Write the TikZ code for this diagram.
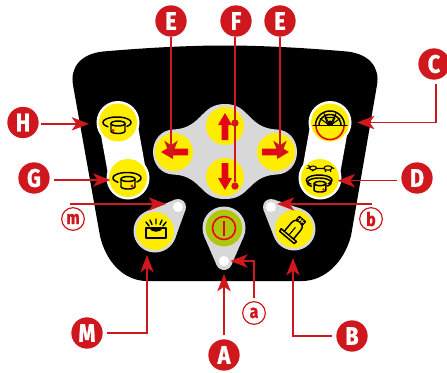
\documentclass[tikz,border=0pt]{standalone}
\usepackage{fontspec}
\setmainfont{Fira Sans}[BoldFeatures={FakeBold=1.2}]
\usetikzlibrary{arrows.meta,calc}
\definecolor{lblred}{HTML}{CE181E}
\definecolor{arrred}{HTML}{E30613}
\definecolor{btny}{HTML}{FFED00}
\definecolor{panelgray}{HTML}{D9D8D8}
\definecolor{pwgreen}{HTML}{AFC80F}
\tikzset{
  lbl/.style={circle,fill=lblred,text=white,minimum size=23.5pt,inner sep=0pt,font=\fontsize{19}{19}\selectfont\bfseries},
  slbl/.style={circle,draw=lblred,line width=.9pt,fill=white,text=lblred,minimum size=17pt,inner sep=0pt,font=\fontsize{14}{14}\selectfont\bfseries},
  btn/.style={circle,fill=btny,minimum size=28.5pt,inner sep=0pt,outer sep=0pt},
  hole/.style={circle,fill=white,minimum size=7.5pt,inner sep=0pt,outer sep=0pt},
  dotn/.style={circle,fill=lblred,minimum size=5.5pt,inner sep=0pt,outer sep=0pt},
  conn/.style={draw=lblred,line width=1.15pt,-{Stealth[length=13pt,width=10pt,inset=3.5pt]}},
  plainline/.style={draw=lblred,line width=1.15pt},
  ic/.style={draw=black,line width=1.1pt,line cap=round,line join=round},
  blockarrow/.pic={\fill[arrred] (-13,0) -- (-1,-7) -- (-1,-3.4) -- (14,-3.4) -- (14,3.4) -- (-1,3.4) -- (-1,7) -- cycle;}
}
% elliptical arc, angles measured in the y-down picture system
\newcommand\earc[6]{plot[domain=#5:#6,samples=30] ({#1+#3*cos(\x)},{#2+#4*sin(\x)})}
\newcommand\bucketicon[2]{%
  \draw[ic] \earc{-1}{0}{14}{5.5}{130}{405};
  \draw[ic,fill=btny] (-7,1) -- plot[domain=180:0,samples=20] ({7*cos(\x)},{8.5+2.5*sin(\x)}) -- (7,1) -- cycle;
  \draw[ic,fill=btny] (0,1) ellipse[x radius=7,y radius=2.5];
  \fill[arrred] (#1,#2) circle[radius=1.6];
}
\newcommand\teardrop[6]{% cx cy hx hy angle1 angle2
  \fill[panelgray] (#1,#2) circle[radius=21.5] (#3,#4) circle[radius=8];
  \fill[panelgray] ($(#1,#2)+(#5:21.5)$) -- ($(#3,#4)+(#5:8)$) -- ($(#3,#4)+(#6:8)$) -- ($(#1,#2)+(#6:21.5)$) -- cycle;
}
\begin{document}
\begin{tikzpicture}[x=.75pt,y=-.75pt]
\useasboundingbox (0,0) rectangle (447,372);
\fill[white] (0,0) rectangle (447,372);
% panel
\fill[black] (73,85) .. controls (70,68) and (80,54) .. (103,51.5) .. controls (150,47.5) and (190,45.5) .. (225,45.5)
  .. controls (260,45.5) and (300,47.5) .. (347,51.5) .. controls (370,54) and (380,68) .. (377,85)
  -- (351,236) .. controls (344,262) and (325,281) .. (302,281) -- (147,281)
  .. controls (124,281) and (106,262) .. (100,236) -- cycle;
% white halos
\draw[white,line width=28.5pt,line cap=round] (118,122.5) -- (128,178);
\draw[white,line width=28.5pt,line cap=round] (330,122.5) -- (320,178);
\fill[white] (118,122.5) circle[radius=21.5] (128,178) circle[radius=21.5] (330,122.5) circle[radius=21.5] (320,178) circle[radius=21.5];
% gray cross
\fill[panelgray] (225,104) .. controls (238,104) and (243,110) .. (250,117) .. controls (258,125) and (265,129) .. (277,129.5)
  .. controls (289,130) and (297,140) .. (297,152) .. controls (297,164) and (289,174) .. (277,174.5)
  .. controls (265,175) and (258,179) .. (250,187) .. controls (243,194) and (238,199) .. (225,199)
  .. controls (212,199) and (207,194) .. (200,187) .. controls (192,179) and (185,175) .. (173,174.5)
  .. controls (161,174) and (153,164) .. (153,152) .. controls (153,140) and (161,130) .. (173,129.5)
  .. controls (185,129) and (192,125) .. (200,117) .. controls (207,110) and (212,104) .. (225,104) -- cycle;
% teardrops
\teardrop{155}{231}{178}{207}{19.8}{-112.2}
\teardrop{224}{228}{224}{262}{23.4}{156.6}
\teardrop{294}{229}{271}{207}{160.2}{292.2}
% buttons
\node[btn] (bH) at (118,122.5) {};
\node[btn] (bG) at (128,178) {};
\node[btn] (bC) at (330,122.5) {};
\node[btn] (bD) at (320,178) {};
\node[btn] (bL) at (174,152) {};
\node[btn] (bR) at (276,152) {};
\node[btn] (bU) at (225,126) {};
\node[btn] (bDn) at (225,177) {};
\node[btn] (bm) at (155,231) {};
\node[btn] (bb) at (294,229) {};
\node[btn,fill=pwgreen,minimum size=27.5pt] (bA) at (224,228) {};
\node[hole] (hm) at (178,207) {};
\node[hole] (hb) at (271,207) {};
\node[hole] (ha) at (224,261) {};
% block arrows
\pic at (bL) {blockarrow};
\pic[rotate=180] at (bR) {blockarrow};
\pic[rotate=-90] at (bU) {blockarrow};
\pic[rotate=90] at (bDn) {blockarrow};
% power icon
\draw[arrred,line width=1.2pt] (bA) circle[radius=11.5];
\fill[arrred] (222.6,220.5) rectangle (225.4,236);
% bucket icons
\begin{scope}[shift={(bH)}] \bucketicon{-5}{8} \end{scope}
\begin{scope}[shift={(bG)}] \bucketicon{4}{8} \end{scope}
\begin{scope}[shift={(bD)},yshift=-3.5pt,scale=.85]
  \draw[ic] \earc{-1}{-3}{15}{6}{130}{405};
  \bucketicon{4}{8}
\end{scope}
\begin{scope}[shift={(bD)}]
  \draw[ic,line width=.8pt] (-7,-10) ellipse[x radius=3.5,y radius=2];
  \draw[ic,line width=.8pt] (8,-10) ellipse[x radius=4,y radius=2.2];
  \draw[ic,line width=.8pt] (-13,-9.5) -- (-10,-10.5) (-4,-9.5) -- (4,-9.5) (12,-10.5) -- (14,-9.5);
  \draw[ic,line width=.8pt] (-12,-12.5) -- (-9,-11) (-8,-7) -- (-6,-8) (5,-7.5) -- (6,-6.5) (10,-7.5) -- (11,-6.5);
\end{scope}
% gauge icon
\begin{scope}[shift={(bC)}]
  \draw[arrred,line width=1.2pt] \earc{0}{3}{14}{14}{0}{180};
  \draw[ic] (-17,3) -- (17,3);
  \draw[ic] \earc{0}{3}{14.5}{14.5}{180}{360};
  \draw[ic] \earc{0}{3}{11}{11}{180}{360};
  \fill[black] (-3,3) -- (3,3) -- (1,-2) -- (-1,-2) -- cycle;
  \draw[ic,line width=.8pt] (-5,-5) -- (5,-5) -- (2,2) -- (-2,2) -- cycle;
  \draw[ic,line width=.8pt] (0,3) -- (-10,-4) (0,3) -- (10,-4) (0,3) -- (-6,-9) (0,3) -- (6,-9);
\end{scope}
% lamp icon
\begin{scope}[shift={(bm)}]
  \draw[ic,fill=btny] (-9,-3) rectangle (11,7);
  \fill[black] (-6,-3) .. controls (-3,2) and (5,2) .. (8,-3) -- cycle;
  \draw[ic] (1,-7) -- (1,-12) (-3,-6.5) -- (-5,-11) (5,-6.5) -- (7,-11) (-6,-5) -- (-9,-9) (8,-5) -- (11,-9);
\end{scope}
% beacon icon
\begin{scope}[shift={(bb)},rotate=-40]
  \draw[ic,fill=btny] (-6,8) -- (-6,-3) .. controls (-6,-8) and (-3,-9) .. (0,-9) .. controls (3,-9) and (6,-8) .. (6,-3) -- (6,8);
  \draw[ic] (-10,8) -- (10,8) (-9.5,11) -- (9.5,11) (-10,8) -- (-9.5,11) (10,8) -- (9.5,11);
  \draw[ic,line width=.8pt] (0,-2) -- (0,7);
  \draw[ic,fill=black] (-4,-13) rectangle (4,-9);
  \draw[btny,line width=.6pt] (-1.3,-13) -- (-1.3,-9) (1.3,-13) -- (1.3,-9) (-4,-11) -- (4,-11);
\end{scope}
% label nodes
\node[lbl] (lE1) at (171,21) {\scalebox{.85}[1]{E}};
\node[lbl] (lF) at (236,21) {\scalebox{.85}[1]{F}};
\node[lbl] (lE2) at (280,21) {\scalebox{.85}[1]{E}};
\node[lbl] (lH) at (23,122.5) {\scalebox{.85}[1]{H}};
\node[lbl] (lG) at (34,178) {\scalebox{.85}[1]{G}};
\node[lbl] (lC) at (434,64) {\scalebox{.85}[1]{C}};
\node[lbl] (lD) at (417,178) {\scalebox{.85}[1]{D}};
\node[lbl] (lM) at (87,333) {\scalebox{.85}[1]{M}};
\node[lbl] (lA) at (224,355) {\scalebox{.85}[1]{A}};
\node[lbl] (lB) at (352,336) {\scalebox{.85}[1]{B}};
\node[slbl] (lm) at (73,219) {\scalebox{.85}[1]{m}};
\node[slbl] (lb) at (371,219) {\scalebox{.85}[1]{b}};
\node[slbl] (la) at (254,313) {\scalebox{.85}[1]{a}};
% connector ends
\coordinate (tE1) at (171,158);
\coordinate (tE2) at (280,158);
\coordinate (tM) at (147,255);
\coordinate (tB) at (293,258);
\coordinate (tA) at (224,274);
\coordinate (sm) at (70,204);
\coordinate (tm) at (166,204);
\coordinate (sb) at (372,204);
\coordinate (tb) at (277,204);
\node[dotn] (dU) at (235,123) {};
\node[dotn] (dD) at (235,186) {};
% connectors
\draw[conn,shorten <=1.5pt,shorten >=7.5pt] ([yshift=-1pt]lH.east) -- ([yshift=-1pt]bH.west);
\draw[conn,shorten <=3pt,shorten >=-1pt] ([yshift=-1.5pt]lG.east) -- ([yshift=-1.5pt]bG.west);
\draw[conn] (lE1.south) -- (tE1);
\draw[conn] (lE2.south) -- (tE2);
\draw[plainline] ([xshift=-.75pt]lF.south) -- (dD);
\draw[conn,shorten <=3pt,shorten >=6pt] ([xshift=1.5pt]lC.south) |- (bC.east);
\draw[conn,shorten <=3pt,shorten >=-1pt] ([yshift=-2pt]lD.west) -- ([yshift=-2pt]bD.east);
\draw[conn,shorten <=3pt] (lM.east) -| (tM);
\draw[conn,shorten <=3pt] (lB.west) -| (tB);
\draw[conn,shorten <=3pt] (lA.north) -- (tA);
\draw[conn] (sm) -- (tm);
\draw[conn] (sb) -- (tb);
\draw[conn,shorten <=2pt,shorten >=1pt] (la.north) |- (ha.east);
\end{tikzpicture}
\end{document}
